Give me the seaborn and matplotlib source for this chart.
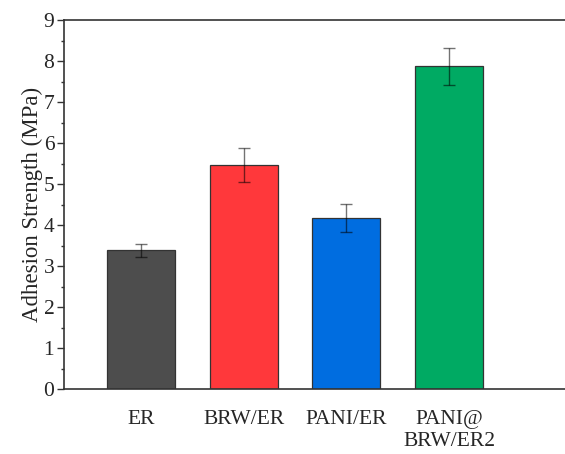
import numpy as np
import pandas as pd
import matplotlib
matplotlib.use('Agg')
import matplotlib.pyplot as plt
import seaborn as sns
from matplotlib.ticker import MultipleLocator

samples = ['ER', 'BRW/ER', 'PANI/ER', 'PANI@\nBRW/ER2']
strength = [3.38, 5.47, 4.17, 7.87]
strength_err = [0.16, 0.41, 0.35, 0.45]
bar_colors = ['#4d4d4d', '#ff383b', '#006de0', '#00aa63']

sns.set_style('ticks')
plt.rcParams['font.family'] = ['Liberation Serif', 'DejaVu Serif']

df = pd.DataFrame({'sample': samples, 'strength': strength})

fig, ax = plt.subplots(figsize=(5.65, 4.54), dpi=100)
fig.subplots_adjust(left=64 / 565, right=1.0, top=1 - 20 / 454, bottom=1 - 389 / 454)

sns.barplot(data=df, x='sample', y='strength', hue='sample', palette=bar_colors,
            saturation=1, errorbar=None, width=0.66, edgecolor='#333333',
            linewidth=0.9, legend=False, ax=ax)
ax.errorbar(np.arange(len(samples)), strength, yerr=strength_err, fmt='none',
            ecolor='black', alpha=0.55, elinewidth=1.0, capsize=4, capthick=1.0)

ax.set_ylim(0, 9)
ax.set_xlim(-0.75, 4.13)
ax.yaxis.set_major_locator(MultipleLocator(1))
ax.yaxis.set_minor_locator(MultipleLocator(0.5))
ax.tick_params(axis='y', which='major', direction='out', length=5, width=1.0,
               labelsize=15.5, pad=2, color='#333333')
ax.tick_params(axis='y', which='minor', direction='out', length=2.5, width=1.0,
               color='#333333')
ax.tick_params(axis='x', length=0, labelsize=15.5, pad=15)

ax.set_xlabel('')
ax.set_ylabel('Adhesion Strength (MPa)', fontsize=16.5, labelpad=0)

for side in ['left', 'top', 'bottom']:
    ax.spines[side].set_linewidth(1.2)
    ax.spines[side].set_color('#333333')
ax.spines['right'].set_visible(False)

plt.savefig('out.png', dpi=100)
plt.close()
